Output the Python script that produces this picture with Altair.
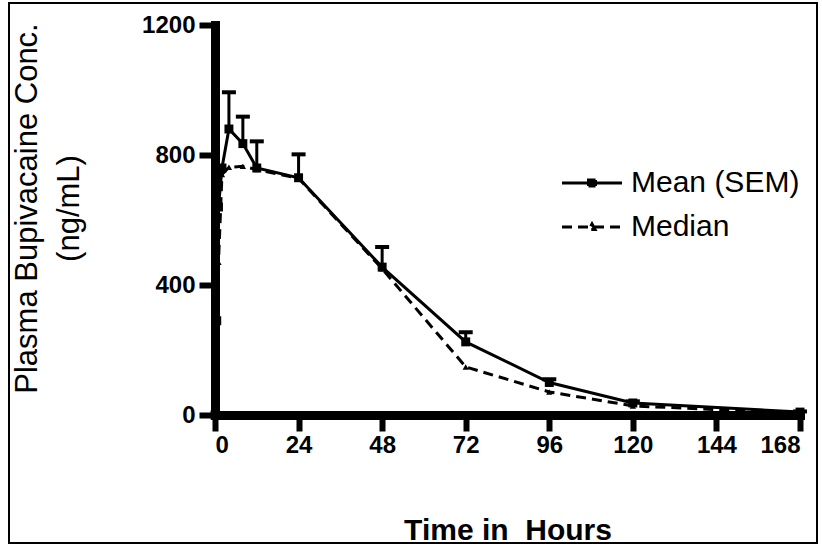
import altair as alt
import pandas as pd

# ---- data ----
time_h = [0, 0.5, 1, 2, 4, 8, 12, 24, 48, 72, 96, 120, 168]
mean_conc = [0, 290, 640, 760, 880, 835, 760, 730, 455, 225, 100, 37, 9]
sem_conc = [0, 15, 20, 20, 113, 83, 82, 72, 62, 30, 10, 5, 2]
median_conc = [0, 270, 470, 740, 762, 765, 755, 728, 450, 148, 71, 28, 5]
series_names = ["Mean (SEM)", "Median"]
x_ticks = [0, 24, 48, 72, 96, 120, 144, 168]
y_ticks = [0, 400, 800, 1200]

rows = []
for t, v in zip(time_h, mean_conc):
    rows.append({"time": t, "conc": v, "series": series_names[0]})
for t, v in zip(time_h, median_conc):
    rows.append({"time": t, "conc": v, "series": series_names[1]})
df = pd.DataFrame(rows)

err = pd.DataFrame({
    "time": time_h,
    "conc": mean_conc,
    "upper": [m + s for m, s in zip(mean_conc, sem_conc)],
})
err = err[err["time"] >= 4]

W, H = 585, 390
TICK_FONT = "Liberation Sans, Arial, sans-serif"
FONT = "Liberation Sans, Arial, sans-serif"

x_enc = alt.X(
    "time:Q",
    scale=alt.Scale(domain=[0, 168], nice=False, zero=False),
    axis=alt.Axis(
        values=x_ticks, title="Time in\u00a0 Hours", grid=False,
        labelFont=TICK_FONT, labelFontSize=24, labelFontWeight="bold",
        labelPadding=2, labelColor="black",
        titleFont=FONT, titleFontSize=30, titleFontWeight="bold",
        titleBaseline="alphabetic", titleY=124, titleColor="black",
    ),
)


def y_enc(field):
    return alt.Y(
        field + ":Q",
        scale=alt.Scale(domain=[0, 1200], nice=False),
        axis=alt.Axis(
            values=y_ticks, format="d",
            title=["Plasma Bupivacaine Conc.", "(ng/mL)"], grid=False,
            labelFont=TICK_FONT, labelFontSize=24, labelFontWeight="bold",
            labelPadding=4, labelColor="black",
            titleFont=FONT, titleFontSize=31, titleFontWeight="normal",
            titleAngle=270, titleAlign="center", titleBaseline="top",
            titleX=-203, titleY=183, titleLineHeight=42, titleColor="black",
        ),
    )


mean_line = alt.Chart(df).transform_filter(
    alt.datum.series == series_names[0]
).mark_line(color="black", strokeWidth=3).encode(x=x_enc, y=y_enc("conc"))

median_line = alt.Chart(df).transform_filter(
    alt.datum.series == series_names[1]
).mark_line(color="black", strokeWidth=3, strokeDash=[10, 6]).encode(x=x_enc, y=y_enc("conc"))

mean_pts = alt.Chart(df).transform_filter(
    alt.datum.series == series_names[0]
).mark_point(shape="square", filled=True, size=80, color="black", opacity=1).encode(
    x=x_enc, y=y_enc("conc"))

median_pts = alt.Chart(df).transform_filter(
    alt.datum.series == series_names[1]
).mark_point(shape="triangle-up", filled=True, size=40, color="black", opacity=1).encode(
    x=x_enc, y=y_enc("conc"))

err_rule = alt.Chart(err).mark_rule(color="black", strokeWidth=3).encode(
    x=x_enc, y=y_enc("conc"), y2="upper:Q"
)
err_cap = alt.Chart(err).mark_tick(
    orient="horizontal", color="black", size=14, thickness=4, opacity=1
).encode(x=x_enc, y=y_enc("upper"))

legend_props = dict(
    title=None, orient="none", legendX=362, legendY=143,
    labelFont=FONT, labelFontSize=30, labelColor="black", labelLimit=400,
    labelOffset=24, symbolSize=400, rowPadding=14, padding=0,
    symbolStrokeColor="black", symbolStrokeWidth=3, symbolOpacity=1,
)

# legend-only layer (no visible data)
legend_layer = alt.Chart(df).transform_filter("datum.conc < 0").mark_point(
    color="black", filled=False, opacity=1, strokeWidth=3
).encode(
    x=x_enc, y=y_enc("conc"),
    shape=alt.Shape(
        "series:N",
        scale=alt.Scale(
            domain=series_names,
            range=[
                "M-3,0H3M-0.35,-0.3H0.35V0.3H-0.35Z",
                "M-3,0H3M0,-0.3L0.3,0.25H-0.3Z",
            ],
        ),
        legend=alt.Legend(**legend_props),
    ),
    strokeDash=alt.StrokeDash(
        "series:N",
        scale=alt.Scale(domain=series_names, range=[[1, 0], [10, 6]]),
        legend=alt.Legend(**legend_props),
    ),
)

frame = alt.Chart(pd.DataFrame({"k": [0]})).mark_rect(
    filled=False, stroke="black", strokeWidth=2
).encode(
    x=alt.value(-206), x2=alt.value(602), y=alt.value(-22), y2=alt.value(518)
)

chart = alt.layer(
    frame, mean_line, median_line, err_rule, err_cap, mean_pts, median_pts, legend_layer
).properties(
    width=W, height=H,
    autosize=alt.AutoSizeParams(type="none"),
    padding={"left": 215, "top": 25, "right": 22, "bottom": 131},
    background="white",
).configure_view(stroke=None).configure_axis(
    domainColor="black", domainWidth=9, domainCap="square",
    tickColor="black", tickWidth=6, tickSize=16,
)

chart.save("out.html", embed_options={"renderer": "svg", "actions": False})
